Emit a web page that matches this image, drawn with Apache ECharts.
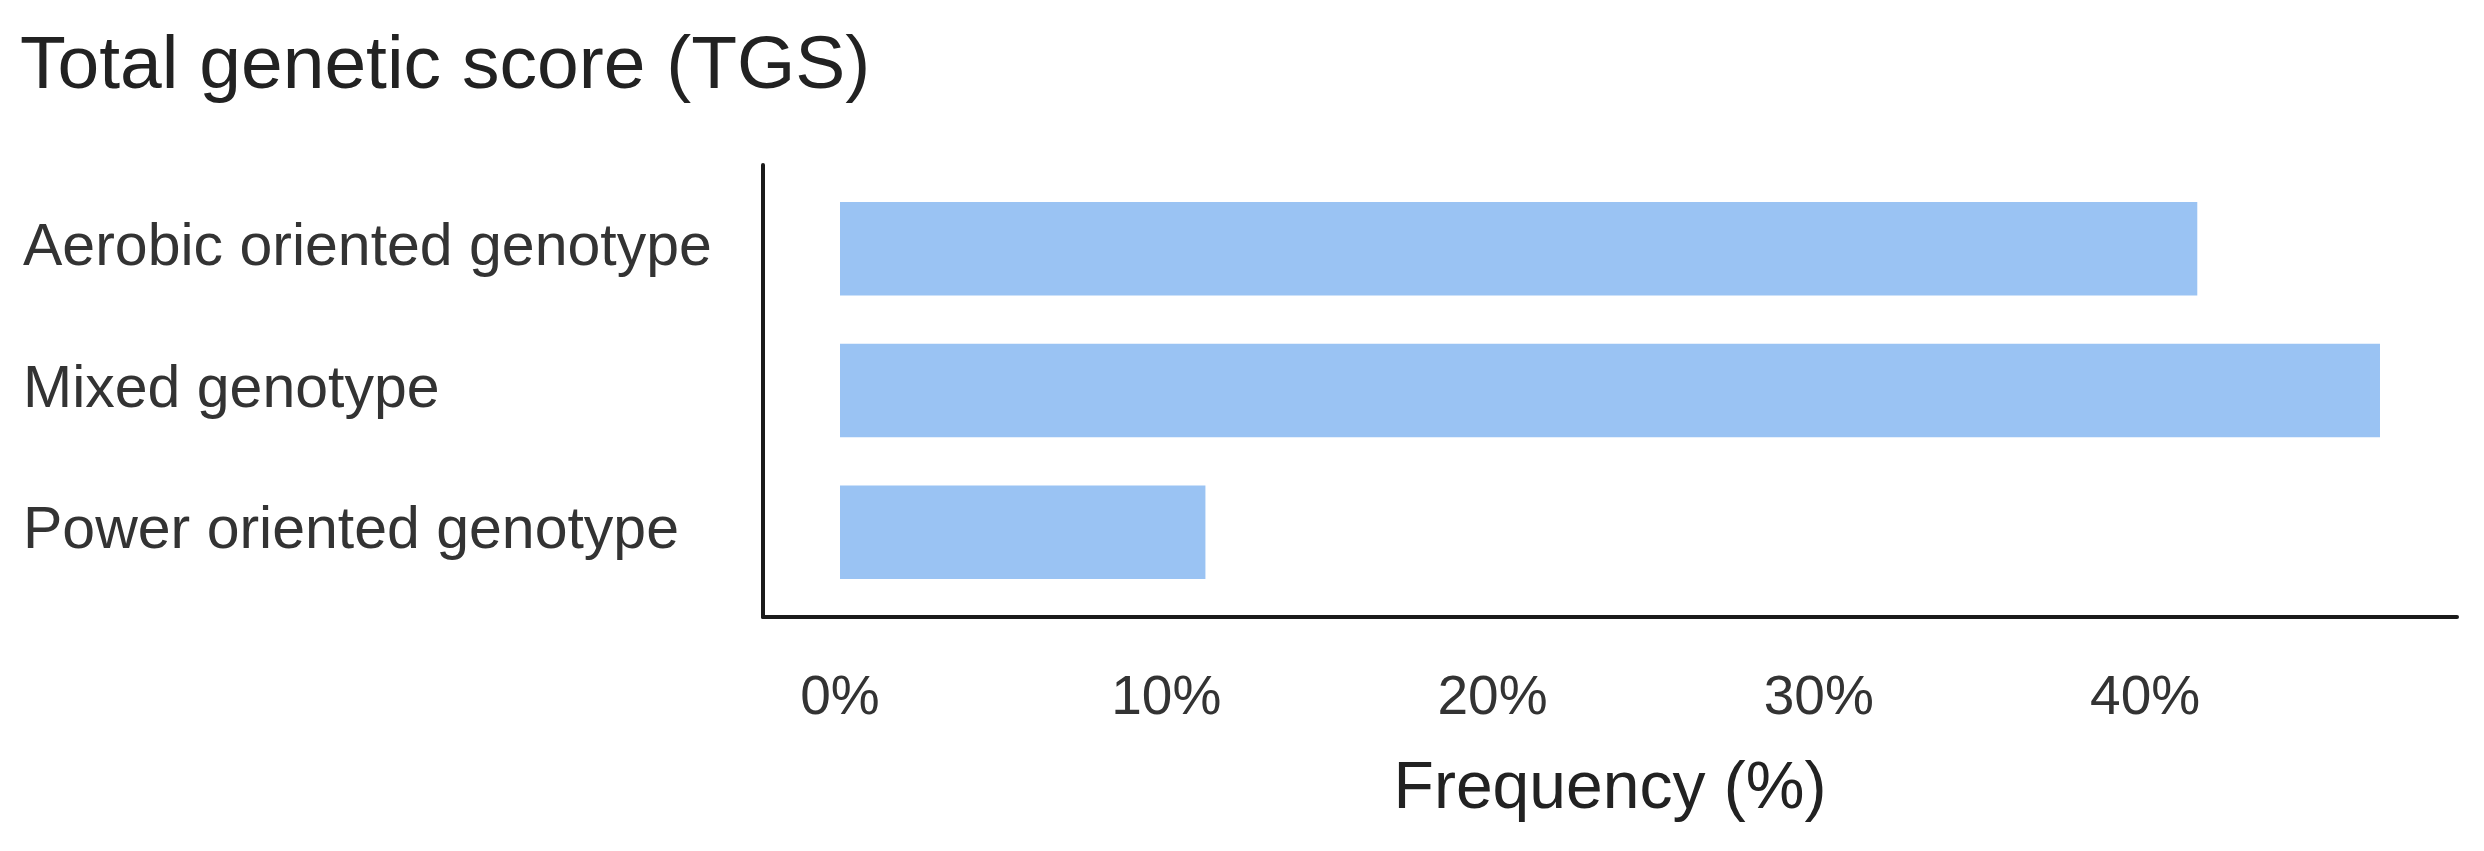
<!DOCTYPE html>
<html lang="en">
<head>
    <meta charset="UTF-8">
    <title>Total genetic score (TGS)</title>
    <script src="https://cdn.jsdelivr.net/npm/echarts@6/dist/echarts.min.js"></script>
    <style>
        body{
            margin: 0;
            background: #ffffff;
        }
        #chart{
            width: 2484px;
            height: 851px;
        }
    </style>
</head>
<body>
<div id="chart"></div>
<script>
    // data (bottom to top as drawn)
    var categories = ['Power oriented genotype', 'Mixed genotype', 'Aerobic oriented genotype'];
    var frequency = [11.2, 47.2, 41.6];
    var tickValues = [0, 10, 20, 30, 40];

    var font = 'Liberation Sans, Arial, sans-serif';
    var xMin = -2.36, xMax = 49.56;

    var myChart = echarts.init(document.getElementById('chart'));
    var option = {
        backgroundColor: '#ffffff',
        animation: false,
        title: {
            text: 'Total genetic score (TGS)',
            left: 20,
            top: 30,
            padding: 0,
            textStyle: { fontFamily: font, fontSize: 75, fontWeight: 'normal', color: '#222222' }
        },
        grid: [
            // frame: axis lines, tick labels, axis title
            { left: 763, right: 27, top: 165, bottom: 234 },
            // bars, inset like ggplot's discrete expansion
            { left: 763, right: 27, top: 178, bottom: 248 }
        ],
        xAxis: [
            {
                gridIndex: 0,
                type: 'value',
                min: xMin,
                max: xMax,
                splitLine: { show: false },
                axisTick: { show: false },
                axisLine: { show: true, onZero: false, lineStyle: { color: '#1a1a1a', width: 4 } },
                axisLabel: {
                    customValues: tickValues,
                    formatter: function (v) { return v + '%'; },
                    margin: 54,
                    fontFamily: font,
                    fontSize: 55,
                    color: '#333333'
                },
                name: 'Frequency (%)',
                nameLocation: 'middle',
                nameGap: 140,
                nameTextStyle: { fontFamily: font, fontSize: 66, color: '#222222' }
            },
            {
                gridIndex: 1,
                type: 'value',
                min: xMin,
                max: xMax,
                show: false
            }
        ],
        yAxis: [
            {
                gridIndex: 0,
                type: 'value',
                min: 0,
                max: 1,
                axisLine: { show: true, onZero: false, lineStyle: { color: '#1a1a1a', width: 4 } },
                axisTick: { show: false },
                axisLabel: { show: false },
                splitLine: { show: false }
            },
            {
                gridIndex: 1,
                type: 'category',
                data: categories,
                axisLine: { show: false },
                axisTick: { show: false },
                axisLabel: {
                    align: 'left',
                    margin: 740,
                    fontFamily: font,
                    fontSize: 59,
                    color: '#333333'
                }
            }
        ],
        series: [
            {
                type: 'bar',
                xAxisIndex: 1,
                yAxisIndex: 1,
                data: frequency,
                barWidth: '66%',
                itemStyle: { color: '#9ac3f3' }
            }
        ]
    };
    myChart.setOption(option);
</script>
</body>
</html>
